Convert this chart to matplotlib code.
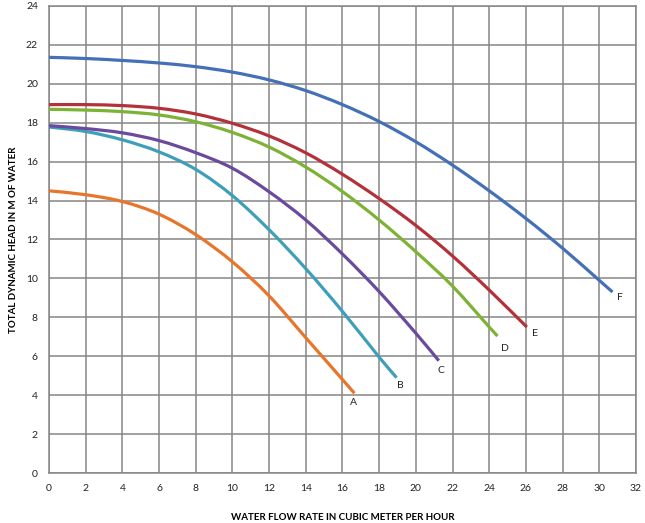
import matplotlib
matplotlib.use("Agg")
import matplotlib.pyplot as plt
from matplotlib.path import Path
from matplotlib.patches import PathPatch

# Pump curves (flow m3/h -> head m)
flow_a = [0, 2, 4, 6, 8, 10, 12, 14, 16, 16.65]
head_a = [14.5, 14.3, 13.95, 13.3, 12.25, 10.85, 9.1, 6.95, 4.8, 4.1]

flow_b = [0, 2, 4, 6, 8, 10, 12, 14, 16, 18, 18.95]
head_b = [17.78, 17.55, 17.12, 16.5, 15.6, 14.25, 12.5, 10.5, 8.3, 5.95, 4.9]

flow_c = [0, 2, 4, 6, 8, 10, 12, 14, 16, 18, 20, 21.25]
head_c = [17.85, 17.7, 17.48, 17.08, 16.46, 15.66, 14.45, 13.0, 11.25, 9.32, 7.18, 5.77]

flow_d = [0, 2, 4, 6, 8, 10, 12, 14, 16, 18, 20, 22, 24, 24.45]
head_d = [18.69, 18.65, 18.57, 18.4, 18.05, 17.5, 16.75, 15.72, 14.46, 13.0, 11.37, 9.6, 7.5, 7.04]

flow_e = [0, 2, 4, 6, 8, 10, 12, 14, 16, 18, 20, 22, 24, 26.05]
head_e = [18.93, 18.93, 18.88, 18.74, 18.45, 17.97, 17.32, 16.45, 15.35, 14.1, 12.72, 11.15, 9.4, 7.5]

flow_f = [0, 2, 4, 6, 8, 10, 12, 14, 16, 18, 20, 22, 24, 26, 28, 30, 30.72]
head_f = [21.36, 21.3, 21.2, 21.07, 20.88, 20.6, 20.2, 19.65, 18.93, 18.06, 17.02,
          15.82, 14.5, 13.08, 11.55, 9.9, 9.3]

curve_names = ["A", "B", "C", "D", "E", "F"]
label_x = [16.58, 19.14, 21.34, 24.83, 26.5, 31.1]
label_y = [3.61, 4.5, 5.26, 6.4, 7.16, 9.0]

x_ticks = list(range(0, 33, 2))
y_ticks = list(range(0, 25, 2))


def smooth_path(xs, ys):
    # Excel-style "smoothed line": cubic bezier through every point
    pts = list(zip(xs, ys))
    verts = [pts[0]]
    codes = [Path.MOVETO]
    n = len(pts)
    for i in range(n - 1):
        p0 = pts[max(i - 1, 0)]
        p1 = pts[i]
        p2 = pts[i + 1]
        p3 = pts[min(i + 2, n - 1)]
        c1 = (p1[0] + (p2[0] - p0[0]) / 6, p1[1] + (p2[1] - p0[1]) / 6)
        c2 = (p2[0] - (p3[0] - p1[0]) / 6, p2[1] - (p3[1] - p1[1]) / 6)
        verts += [c1, c2, p2]
        codes += [Path.CURVE4] * 3
    return Path(verts, codes)


plt.rcParams['font.family'] = ['Lato', 'DejaVu Sans']

fig = plt.figure(figsize=(6.45, 5.23), dpi=100)
ax = fig.add_axes([0.076, 0.0956, 0.91, 0.893])

colors = ["#E8762A", "#3E9FBA", "#6A4A9C", "#7DB234", "#B3323A", "#4470B8"]
curves = [(flow_a, head_a), (flow_b, head_b), (flow_c, head_c),
          (flow_d, head_d), (flow_e, head_e), (flow_f, head_f)]

for (fx, hy), col in zip(curves, colors):
    patch = PathPatch(smooth_path(fx, hy), facecolor='none', edgecolor=col,
                      linewidth=2.3, capstyle='butt', zorder=3)
    ax.add_patch(patch)

for name, lx, ly in zip(curve_names, label_x, label_y):
    ax.text(lx, ly, name, ha='center', va='center', fontsize=7.5, color='#222222')

ax.set_xlim(0, 32)
ax.set_ylim(0, 24)
ax.set_xticks(x_ticks)
ax.set_yticks(y_ticks)
ax.tick_params(length=0, labelsize=7.5, colors='#222222', pad=8)
ax.grid(True, color='#868686', linewidth=1.1)
ax.set_axisbelow(True)
for sp in ax.spines.values():
    sp.set_color('#868686')
    sp.set_linewidth(1.1)

ax.set_xlabel('WATER FLOW RATE IN CUBIC METER PER HOUR', fontsize=7,
              fontweight='bold', labelpad=14)
ax.set_ylabel('TOTAL DYNAMIC HEAD IN M OF WATER', fontsize=7,
              fontweight='bold', labelpad=6)

fig.savefig('out.png', dpi=100)
plt.close(fig)
